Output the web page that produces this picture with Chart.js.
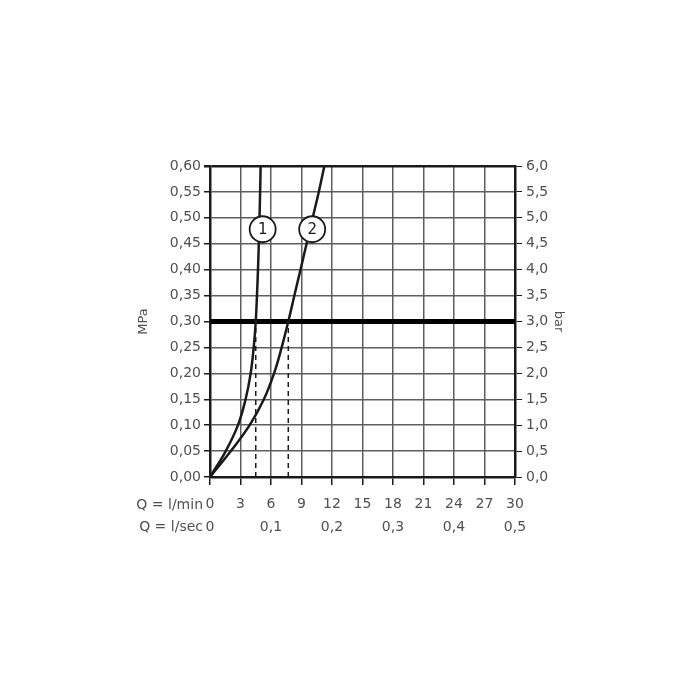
<!DOCTYPE html>
<html>
<head>
<meta charset="utf-8">
<script src="https://cdn.jsdelivr.net/npm/chart.js@4/dist/chart.umd.min.js"></script>
<style>
  body { margin: 0; background: #fff; }
  canvas { display: block; }
</style>
</head>
<body>
<canvas id="grafik" width="700" height="700"></canvas>
<script>
// pressure steps (MPa) and flow (l/min)
const pressureMPa = [0, 0.05, 0.10, 0.15, 0.20, 0.25, 0.30, 0.35, 0.40, 0.45, 0.50, 0.55, 0.60];
const flowCurve1 = [0, 1.55, 2.75, 3.5, 4.0, 4.3, 4.5, 4.62, 4.72, 4.8, 4.87, 4.93, 4.98];
const flowCurve2 = [0, 2.05, 3.9, 5.3, 6.3, 7.05, 7.7, 8.3, 8.9, 9.5, 10.1, 10.7, 11.25];

// operating pressure and flows at that pressure
const refPressure = 0.30;
const refFlows = [4.5, 7.7];

// circled curve numbers
const markerLabels = ["1", "2"];
const markerFlow = [5.18, 10.05];
const markerPressure = [0.478, 0.478];

const fmt = (v, d) => v.toFixed(d).replace(".", ",");
const ink = "#1a1a1a";
const txt = "#505050";
const gridCol = "#5e5e5e";
const family = "'DejaVu Sans', 'Noto Sans', sans-serif";
const font = { family: family, size: 14 };

const markerText = {
  id: "markerText",
  afterDatasetsDraw(c) {
    const meta = c.getDatasetMeta(0);
    const ctx = c.ctx;
    ctx.save();
    ctx.fillStyle = ink;
    ctx.font = "15px " + family;
    ctx.textAlign = "center";
    ctx.textBaseline = "middle";
    meta.data.forEach((el, i) => ctx.fillText(markerLabels[i], el.x, el.y + 1));
    ctx.restore();
  },
};

const rowNames = {
  id: "rowNames",
  afterDraw(c) {
    const ctx = c.ctx;
    ctx.save();
    ctx.fillStyle = txt;
    ctx.font = font.size + "px " + family;
    ctx.textAlign = "right";
    ctx.textBaseline = "middle";
    const left = c.chartArea.left - 7;
    ctx.fillText("Q = l/min", left, c.scales.x.top + 28);
    ctx.fillText("Q = l/sec", left, c.scales.x2.top + 10);
    ctx.restore();
  },
};

const curve = (flows, order) => ({
  data: pressureMPa.map((p, i) => ({ x: flows[i], y: p })),
  showLine: true,
  tension: 0.4,
  borderColor: ink,
  borderWidth: 2.5,
  pointRadius: 0,
  order: order,
});

const dashed = refFlows.map((f) => ({
  data: [{ x: f, y: 0 }, { x: f, y: refPressure }],
  showLine: true,
  borderColor: ink,
  borderWidth: 1.5,
  borderDash: [5, 4],
  pointRadius: 0,
  order: 4,
}));

new Chart(document.querySelector("#grafik"), {
  type: "scatter",
  data: {
    datasets: [
      {
        data: markerFlow.map((x, i) => ({ x: x, y: markerPressure[i] })),
        pointRadius: 13,
        pointBorderWidth: 1.8,
        pointBorderColor: ink,
        pointBackgroundColor: "#fff",
        order: 0,
      },
      curve(flowCurve1, 1),
      curve(flowCurve2, 2),
      {
        data: [{ x: 0, y: refPressure }, { x: 30, y: refPressure }],
        showLine: true,
        borderColor: "#000",
        borderWidth: 5,
        pointRadius: 0,
        order: 3,
      },
      ...dashed,
    ],
  },
  options: {
    responsive: false,
    animation: false,
    layout: { padding: { left: 136, right: 134, top: 166, bottom: 0 } },
    plugins: { legend: { display: false }, tooltip: { enabled: false } },
    scales: {
      x: {
        type: "linear",
        position: "bottom",
        min: 0,
        max: 30,
        ticks: { stepSize: 3, color: txt, font: font, padding: 11, maxRotation: 0 },
        grid: { color: gridCol, lineWidth: 1.5, tickLength: 8, tickColor: ink },
        border: { color: ink, width: 2.5 },
        afterFit: (s) => { s.height = 40; },
      },
      x2: {
        type: "linear",
        position: "bottom",
        min: 0,
        max: 0.5,
        ticks: { stepSize: 0.1, color: txt, font: font, padding: 2, maxRotation: 0,
          callback: (v) => (v === 0 ? "0" : fmt(v, 1)) },
        grid: { display: false, drawTicks: false },
        border: { display: false },
        afterFit: (s) => { s.height = 183; },
      },
      y: {
        position: "left",
        min: 0,
        max: 0.6,
        ticks: { stepSize: 0.05, color: txt, font: font, padding: 3, callback: (v) => fmt(v, 2) },
        grid: {
          color: (c) => (c.tick && Math.abs(c.tick.value - 0.6) < 1e-6 ? ink : gridCol),
          lineWidth: (c) => (c.tick && Math.abs(c.tick.value - 0.6) < 1e-6 ? 2.5 : 1.5),
          tickLength: 6,
          tickColor: ink,
        },
        border: { color: ink, width: 2.5 },
        title: { display: true, text: "MPa", color: txt, font: { family: family, size: 13 }, padding: 0 },
        afterFit: (s) => { s.width = 74; },
      },
      y2: {
        position: "right",
        min: 0,
        max: 6,
        ticks: { stepSize: 0.5, color: txt, font: font, padding: 4, callback: (v) => fmt(v, 1) },
        grid: { drawOnChartArea: false, tickLength: 7, tickColor: ink },
        border: { color: ink, width: 2.5 },
        title: { display: true, text: "bar", color: txt, font: { family: family, size: 13 }, padding: 0 },
        afterFit: (s) => { s.width = 51; },
      },
    },
  },
  plugins: [markerText, rowNames],
});
</script>
</body>
</html>
